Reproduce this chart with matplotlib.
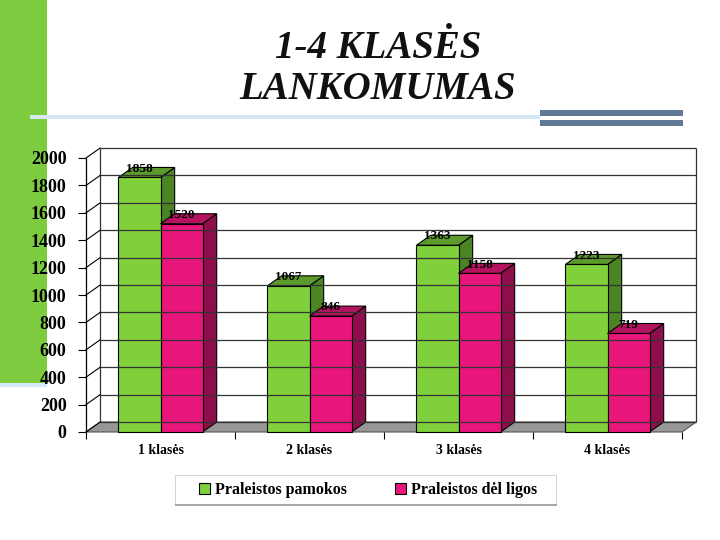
import matplotlib
matplotlib.use("Agg")
import matplotlib.pyplot as plt
from matplotlib.patches import Polygon, Rectangle

categories = ["1 klasės", "2 klasės", "3 klasės", "4 klasės"]
series_names = ["Praleistos pamokos", "Praleistos dėl ligos"]
praleistos_pamokos = [1858, 1067, 1363, 1223]
praleistos_del_ligos = [1520, 846, 1158, 719]
y_ticks = [0, 200, 400, 600, 800, 1000, 1200, 1400, 1600, 1800, 2000]
title = "1-4 KLASĖS\nLANKOMUMAS"

# front, top, side colours for each series
GREEN = ("#80d03c", "#5c9a2c", "#4b8422")
PINK = ("#e8167a", "#b5135f", "#8e0e4b")

W = 0.282      # bar width in category units
DX = 0.095     # depth offset (category units)
DY = 73        # depth offset (value units)


def bar3d(ax, x0, h, cols):
    kw = dict(edgecolor="black", linewidth=0.8, clip_on=False)
    side = Polygon([(x0 + W, 0), (x0 + W + DX, DY), (x0 + W + DX, h + DY),
                    (x0 + W, h)], facecolor=cols[2], **kw)
    top = Polygon([(x0, h), (x0 + DX, h + DY), (x0 + W + DX, h + DY),
                   (x0 + W, h)], facecolor=cols[1], **kw)
    front = Rectangle((x0, 0), W, h, facecolor=cols[0], **kw)
    for p in (side, top, front):
        ax.add_patch(p)


def deco(fig, x, y, w, h, color):
    # pixel box (top-left origin) -> figure fraction
    fig.add_artist(Rectangle((x / 720, 1 - (y + h) / 540), w / 720, h / 540,
                             transform=fig.transFigure, color=color, lw=0,
                             zorder=-5))


def main():
    plt.rcParams["font.family"] = ["Liberation Serif", "DejaVu Serif"]
    fig = plt.figure(figsize=(7.2, 5.4), dpi=100)

    # slide decoration
    deco(fig, 0, 0, 47, 383, "#7dcb3e")
    deco(fig, 0, 383, 47, 4, "#d6e8f5")
    deco(fig, 30, 115, 510, 4, "#d6e8f5")
    deco(fig, 540, 110, 143, 6, "#5f7896")
    deco(fig, 540, 120, 143, 6, "#5f7896")

    fig.text(378 / 720, 1 - 69 / 540, title, ha="center", va="center",
             fontsize=28, fontweight="bold", fontstyle="italic",
             linespacing=1.15, color="#111111")

    ax = fig.add_axes([86 / 720, 108 / 540, 596 / 720, 274 / 540])
    ax.set_xlim(-0.5, 3.5)
    ax.set_ylim(0, 2000)
    for s in ax.spines.values():
        s.set_visible(False)
    ax.patch.set_alpha(0)

    n = len(categories)
    # back wall grid + edges
    ax.hlines([v + DY for v in y_ticks], -0.5 + DX, n - 0.5 + DX,
              colors="#333333", lw=0.9, clip_on=False)
    ax.vlines([-0.5 + DX, n - 0.5 + DX], DY, y_ticks[-1] + DY,
              colors="#333333", lw=0.9, clip_on=False)
    # left wall
    ax.vlines(-0.5, 0, y_ticks[-1], colors="black", lw=0.9, clip_on=False)
    for v in y_ticks:
        ax.plot([-0.5, -0.5 + DX], [v, v + DY], color="black", lw=0.8,
                clip_on=False)
    # floor
    ax.add_patch(Polygon([(-0.5, 0), (n - 0.5, 0), (n - 0.5 + DX, DY),
                          (-0.5 + DX, DY)], facecolor="#979797",
                         edgecolor="#555555", lw=0.8, clip_on=False))

    for i in range(n):
        for j, (vals, cols) in enumerate(((praleistos_pamokos, GREEN),
                                          (praleistos_del_ligos, PINK))):
            x0 = i - W + j * W
            bar3d(ax, x0, vals[i], cols)
            ax.annotate(str(vals[i]), (x0 + W / 2, vals[i]), xytext=(0, 2),
                        textcoords="offset points", ha="center", va="bottom",
                        fontsize=9.5, fontweight="bold", annotation_clip=False)

    ax.set_yticks(y_ticks)
    ax.set_yticklabels([str(v) for v in y_ticks], fontsize=13,
                       fontweight="bold")
    ax.tick_params(axis="y", length=6, width=0.8, pad=8)
    ax.set_xticks(range(n))
    ax.set_xticklabels(categories, fontsize=10, fontweight="bold")
    ax.set_xticks([k - 0.5 for k in range(n + 1)], minor=True)
    ax.tick_params(axis="x", which="major", length=0, pad=9)
    ax.tick_params(axis="x", which="minor", length=5, width=0.8)

    # legend box
    deco(fig, 175, 475, 382, 30, "#d4d4d4")
    deco(fig, 176, 476, 380, 28, "white")
    deco(fig, 175, 504, 382, 2, "#a8a8a8")
    handles = [Rectangle((0, 0), 1, 1, facecolor=GREEN[0], edgecolor="black",
                         lw=0.8),
               Rectangle((0, 0), 1, 1, facecolor=PINK[0], edgecolor="black",
                         lw=0.8)]
    fig.legend(handles, series_names, loc="center", ncol=2,
               bbox_to_anchor=(368 / 720, 1 - 490 / 540), frameon=False,
               prop=dict(size=11.5, weight="bold"), handlelength=0.7,
               handleheight=0.7, handletextpad=0.3, columnspacing=3.0)

    fig.savefig("out.png", dpi=100)


if __name__ == "__main__":
    main()
